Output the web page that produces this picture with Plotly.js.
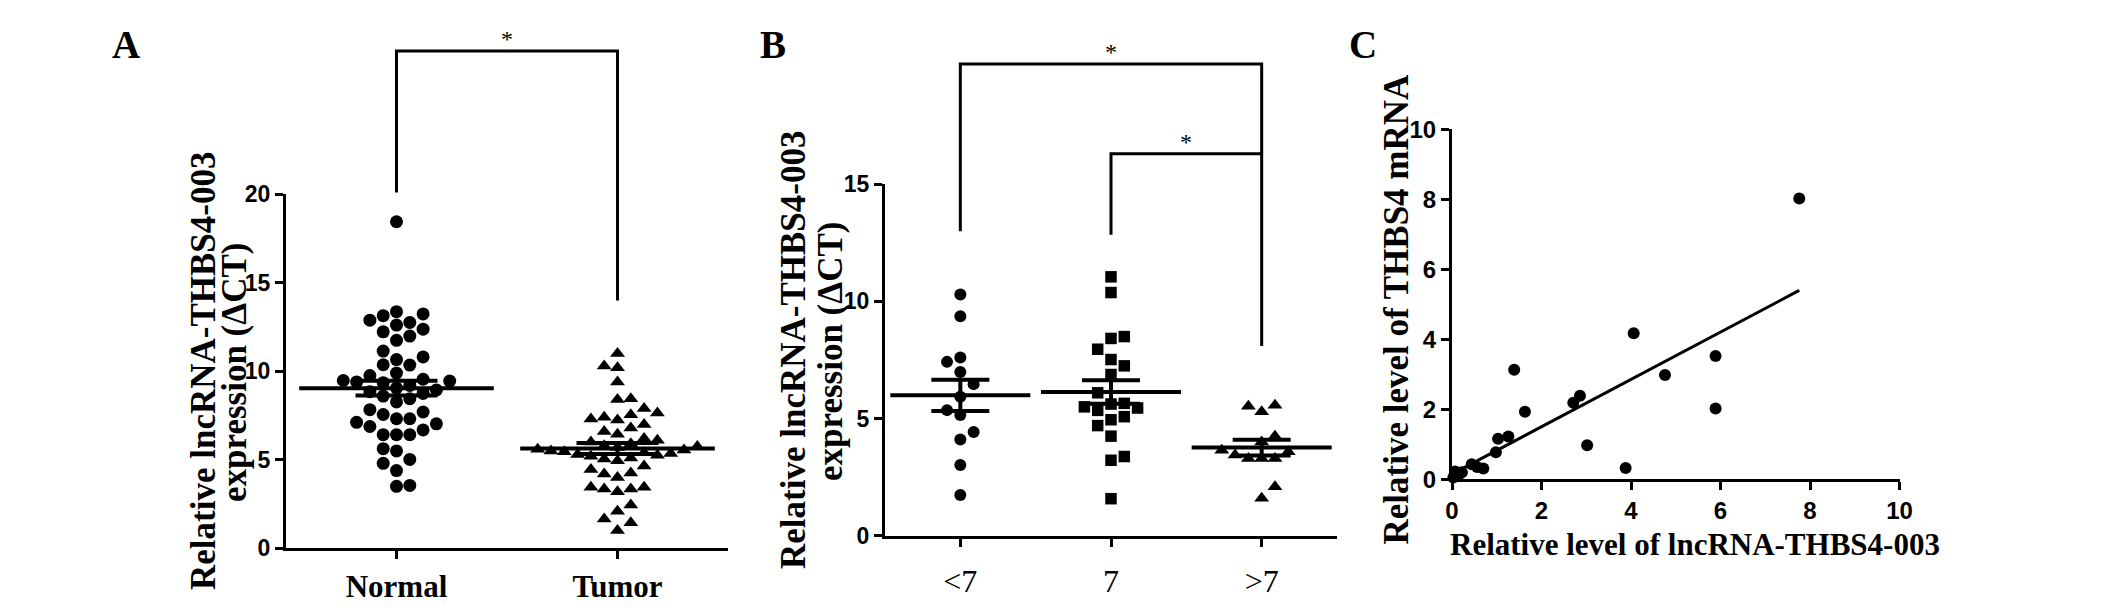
<!DOCTYPE html>
<html><head><meta charset="utf-8">
<script src="https://cdn.plot.ly/plotly-3.0.1.min.js"></script>
<style>html,body{margin:0;padding:0;background:#fff}</style>
</head><body><div id="chart" style="width:2126px;height:612px"></div>
<script>
// ---------------- data ----------------
const catA = ['Normal', 'Tumor'];
const normalVals = [18.45, 13.37, 13.14, 12.76, 12.89, 13.24, 12.61, 12.38, 11.99, 11.75, 12.23,
  11.14, 10.66, 10.81, 10.35, 10.37, 9.90, 9.76, 9.55, 9.45, 9.40, 9.48, 9.36, 9.20, 9.05, 8.95,
  8.85, 8.75, 8.60, 8.45, 8.27, 7.70, 7.56, 7.83, 7.32, 7.12, 6.88, 7.32, 7.03, 6.69, 6.42, 6.42,
  6.42, 5.63, 5.50, 5.02, 4.80, 4.39, 3.50, 3.55];
const tumorVals = [11.0, 10.3, 10.2, 9.4, 8.45, 8.4, 7.65, 7.4, 7.25, 7.3, 7.55, 7.9, 6.8, 6.6,
  7.0, 6.45, 6.2, 6.1, 6.0, 5.9, 5.75, 5.7, 5.6, 5.55, 5.5, 5.45, 5.4, 5.3, 5.25, 5.2, 5.1, 5.05,
  4.95, 5.8, 5.35, 4.65, 4.25, 4.2, 4.45, 4.0, 3.45, 3.35, 3.2, 3.35, 3.45, 2.45, 2.1, 1.65, 1.45, 1.0];

const catB = ['<7', '7', '>7'];
const lt7Vals = [10.3, 9.37, 7.42, 7.61, 6.99, 6.47, 5.93, 5.36, 5.15, 4.43, 4.11, 3.02, 1.74];
const eq7Vals = [11.05, 10.38, 8.5, 8.42, 7.96, 7.52, 7.25, 6.88, 6.1, 5.5, 5.45, 5.62, 5.65, 5.35,
  4.95, 5.08, 4.7, 4.25, 3.38, 3.22, 1.58];
const gt7Vals = [5.53, 5.29, 5.57, 4.25, 3.65, 3.44, 3.3, 3.3, 3.3, 3.58, 4.0, 2.09, 1.6];

const lncX = [0.03, 0.07, 0.15, 0.22, 0.44, 0.56, 0.70, 0.98, 1.03, 1.26, 1.39, 1.63, 2.71, 2.86,
  3.02, 3.88, 4.06, 4.76, 5.89, 5.89, 7.76];
const mrnaY = [0.05, 0.22, 0.12, 0.20, 0.43, 0.35, 0.31, 0.77, 1.16, 1.22, 3.13, 1.93, 2.19, 2.39,
  0.97, 0.32, 4.17, 2.98, 3.52, 2.02, 8.02];

const tickA = [0, 5, 10, 15, 20];
const tickB = [0, 5, 10, 15];
const tickC = [0, 2, 4, 6, 8, 10];

const titleA = ['Relative lncRNA-THBS4-003', 'expression (\u0394CT)'];
const titleCy = 'Relative level of THBS4 mRNA';
const titleCx = 'Relative level of lncRNA-THBS4-003';
const panelLetters = ['A', 'B', 'C'];
const sigMark = '*';

// ---------------- helpers ----------------
const W = 2126, H = 612;
const px = v => v / W;
const py = v => (H - v) / H;

// panel geometry in pixels (layout only)
const geoA = {x0: 286, x1: 728, y0: 548.3, y1: 194.3, xr: [0.5, 2.5], yr: [0, 20]};
const geoB = {x0: 885, x1: 1337, y0: 535.7, y1: 184.3, xr: [0.5, 3.5], yr: [0, 15]};
const geoC = {x0: 1452, x1: 1899.5, y0: 479.3, y1: 129.3, xr: [0, 10], yr: [0, 10]};

function pxPerX(g) { return (g.x1 - g.x0) / (g.xr[1] - g.xr[0]); }
function pxPerY(g) { return (g.y0 - g.y1) / (g.yr[1] - g.yr[0]); }
function paperX(g, v) { return px(g.x0 + (v - g.xr[0]) * pxPerX(g)); }
function paperY(g, v) { return py(g.y0 - (v - g.yr[0]) * pxPerY(g)); }

function meanSem(a) {
  const n = a.length;
  const m = a.reduce((s, v) => s + v, 0) / n;
  const sd = Math.sqrt(a.reduce((s, v) => s + (v - m) * (v - m), 0) / (n - 1));
  return [m, sd / Math.sqrt(n)];
}

// Prism-like column scatter: points on a grid of columns, no overlap within a column
function swarm(vals, center, g, step) {
  const ppx = pxPerX(g), ppy = pxPerY(g);
  const idx = vals.map((v, i) => i).sort((a, b) => vals[a] - vals[b]);
  const placed = [];
  const xs = new Array(vals.length);
  let flip = 1;
  idx.forEach(i => {
    const v = vals[i];
    for (let k = 0; k < 50; k++) {
      const cands = k === 0 ? [0] : [flip * k, -flip * k];
      let found = null;
      for (const c of cands) {
        const ok = placed.every(p => p.c !== c || Math.abs(p.v - v) * ppy >= step * 0.98);
        if (ok) { found = c; break; }
      }
      if (found !== null) {
        placed.push({c: found, v: v});
        xs[i] = center + found * step / ppx;
        if (found !== 0) flip = -flip;
        break;
      }
    }
  });
  return xs;
}

function linreg(x, y) {
  const n = x.length;
  const mx = x.reduce((s, v) => s + v, 0) / n, my = y.reduce((s, v) => s + v, 0) / n;
  let sxy = 0, sxx = 0;
  for (let i = 0; i < n; i++) { sxy += (x[i] - mx) * (y[i] - my); sxx += (x[i] - mx) * (x[i] - mx); }
  const b = sxy / sxx;
  return [b, my - b * mx];
}

// ---------------- traces ----------------
const black = '#000';
const traces = [];
const stepA = 13.3, stepB = 13.3;

const groupsA = [
  {vals: normalVals, sym: 'circle', size: 13},
  {vals: tumorVals, sym: 'triangle-up', size: 13}
];
groupsA.forEach((gr, i) => {
  traces.push({type: 'scatter', mode: 'markers', xaxis: 'x', yaxis: 'y', cliponaxis: false,
    x: swarm(gr.vals, i + 1, geoA, stepA), y: gr.vals, hoverinfo: 'skip',
    marker: {symbol: gr.sym, size: gr.size, color: black, line: {width: 0}}});
});
const msA = groupsA.map(gr => meanSem(gr.vals));
traces.push({type: 'scatter', mode: 'markers', xaxis: 'x', yaxis: 'y', cliponaxis: false,
  x: catA.map((c, i) => i + 1), y: msA.map(m => m[0]), hoverinfo: 'skip',
  marker: {symbol: 'line-ew', size: 139, color: black, line: {width: 4, color: black}},
  error_y: {type: 'data', array: msA.map(m => m[1]), width: 41, thickness: 4, color: black}});

const groupsB = [
  {vals: lt7Vals, sym: 'circle', size: 12},
  {vals: eq7Vals, sym: 'square', size: 11.5},
  {vals: gt7Vals, sym: 'triangle-up', size: 13}
];
groupsB.forEach((gr, i) => {
  traces.push({type: 'scatter', mode: 'markers', xaxis: 'x2', yaxis: 'y2', cliponaxis: false,
    x: swarm(gr.vals, i + 1, geoB, stepB), y: gr.vals, hoverinfo: 'skip',
    marker: {symbol: gr.sym, size: gr.size, color: black, line: {width: 0}}});
});
const msB = groupsB.map(gr => meanSem(gr.vals));
traces.push({type: 'scatter', mode: 'markers', xaxis: 'x2', yaxis: 'y2', cliponaxis: false,
  x: catB.map((c, i) => i + 1), y: msB.map(m => m[0]), hoverinfo: 'skip',
  marker: {symbol: 'line-ew', size: 100, color: black, line: {width: 4, color: black}},
  error_y: {type: 'data', array: msB.map(m => m[1]), width: 29, thickness: 4, color: black}});

traces.push({type: 'scatter', mode: 'markers', xaxis: 'x3', yaxis: 'y3', cliponaxis: false,
  x: lncX, y: mrnaY, hoverinfo: 'skip', marker: {symbol: 'circle', size: 12, color: black}});
const [slope, icpt] = linreg(lncX, mrnaY);
const xmin = Math.min(...lncX), xmax = Math.max(...lncX);
traces.push({type: 'scatter', mode: 'lines', xaxis: 'x3', yaxis: 'y3', hoverinfo: 'skip',
  x: [xmin, xmax], y: [icpt + slope * xmin, icpt + slope * xmax], line: {color: black, width: 3}});

// ---------------- layout ----------------
const sans = 'Liberation Sans, Arial, sans-serif';
const serif = 'Liberation Serif, Times New Roman, serif';
function axBase(extra) {
  return Object.assign({showline: true, linewidth: 3, linecolor: black, ticks: 'outside',
    ticklen: 8, tickwidth: 3, tickcolor: black, showgrid: false, zeroline: false,
    fixedrange: true, tickmode: 'array'}, extra);
}
const yTickFont = {family: sans, size: 23, weight: 700, color: black};

const layout = {
  width: W, height: H, margin: {l: 0, r: 0, t: 0, b: 0}, showlegend: false,
  paper_bgcolor: '#fff', plot_bgcolor: 'rgba(0,0,0,0)',
  xaxis: axBase({domain: [px(geoA.x0), px(geoA.x1)], range: geoA.xr, anchor: 'y',
    tickvals: catA.map((c, i) => i + 1), ticktext: catA,
    tickfont: {family: serif, size: 31, weight: 700, color: black}}),
  yaxis: axBase({domain: [py(geoA.y0), py(geoA.y1)], range: geoA.yr, anchor: 'x',
    tickvals: tickA, tickfont: yTickFont}),
  xaxis2: axBase({domain: [px(geoB.x0), px(geoB.x1)], range: geoB.xr, anchor: 'y2',
    tickvals: catB.map((c, i) => i + 1), ticktext: catB, ticklabelstandoff: 7,
    tickfont: {family: serif, size: 32, color: black}}),
  yaxis2: axBase({domain: [py(geoB.y0), py(geoB.y1)], range: geoB.yr, anchor: 'x2',
    tickvals: tickB, tickfont: yTickFont}),
  xaxis3: axBase({domain: [px(geoC.x0), px(geoC.x1)], range: geoC.xr, anchor: 'y3',
    tickvals: tickC, tickfont: {family: sans, size: 24, weight: 700, color: black}}),
  yaxis3: axBase({domain: [py(geoC.y0), py(geoC.y1)], range: geoC.yr, anchor: 'x3',
    tickvals: tickC, tickfont: {family: sans, size: 24, weight: 700, color: black}}),
  shapes: [], annotations: []
};

// significance brackets (A: Normal vs Tumor; B: <7 vs >7 and 7 vs >7)
function bracket(g, xa, xb, ya, top, yb) {
  const pts = [[xa, ya], [xa, top], [xb, top], [xb, yb]];
  const path = pts.map((p, i) => (i ? 'L' : 'M') + paperX(g, p[0]).toFixed(5) + ',' + paperY(g, p[1]).toFixed(5)).join(' ');
  layout.shapes.push({type: 'path', xref: 'paper', yref: 'paper', path: path,
    line: {color: black, width: 3}});
  layout.annotations.push({xref: 'paper', yref: 'paper', x: paperX(g, (xa + xb) / 2),
    y: paperY(g, top), yanchor: 'bottom', xanchor: 'center', showarrow: false, text: sigMark,
    yshift: -3, font: {family: serif, size: 24, color: black}});
}
bracket(geoA, 1, 2, 20.1, 28.1, 14.0);
bracket(geoB, 1, 3, 13.0, 20.13, 8.1);
bracket(geoB, 2, 3, 12.85, 16.3, 16.3);

function ann(text, x, y, size, angle, weight) {
  layout.annotations.push({xref: 'paper', yref: 'paper', x: px(x), y: py(y), xanchor: 'center',
    yanchor: 'middle', showarrow: false, text: text, textangle: angle || 0,
    font: {family: serif, size: size, weight: weight || 700, color: black}});
}
// y titles
ann(titleA[0], 203, 371, 35, -90);
ann(titleA[1], 234, 372, 35, -90);
ann(titleA[0], 793, 350, 35, -90);
ann(titleA[1], 830, 351, 35, -90);
ann(titleCy, 1395.5, 309, 35, -90);
ann(titleCx, 1695, 544.5, 31, 0);
// panel letters
ann(panelLetters[0], 126, 45, 39, 0);
ann(panelLetters[1], 772.5, 45, 39, 0);
ann(panelLetters[2], 1363, 45, 39, 0);

Plotly.newPlot('chart', traces, layout, {staticPlot: true, displayModeBar: false});
</script>
</body></html>
